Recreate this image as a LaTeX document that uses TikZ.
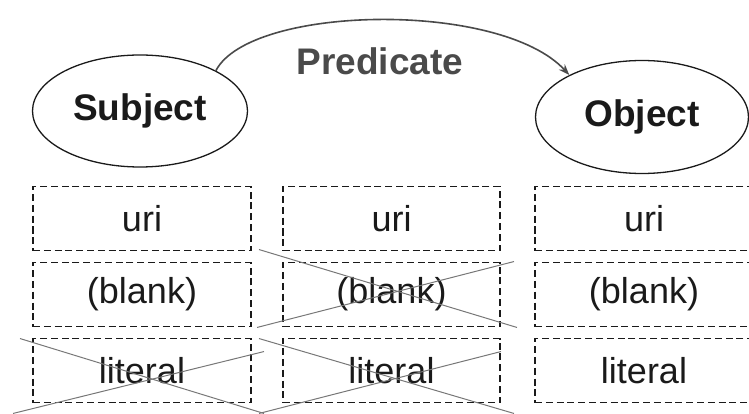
\documentclass[tikz,border=0pt]{standalone}
\usepackage{xcolor}
\usepackage{fontspec}
\setmainfont{Liberation Sans}
\usepackage{tikz}
\usetikzlibrary{shapes.geometric, arrows.meta, calc}

\definecolor{inkdark}{HTML}{1A1A1A}
\definecolor{inkgray}{HTML}{4A4A4A}
\definecolor{strikegray}{HTML}{777777}

\begin{document}
\begin{tikzpicture}[
    x=1pt, y=-1pt,
    every node/.style={align=center, font=\fontsize{36}{40}\selectfont, text=inkdark},
    term/.style={draw=inkdark, ellipse, line width=1.3pt, minimum width=215pt, minimum height=112pt, inner sep=0pt, font=\fontsize{37}{40}\selectfont\bfseries},
    pred/.style={font=\fontsize{37}{40}\selectfont\bfseries, text=inkgray},
    kind/.style={draw=inkdark, line width=1.9pt, dash pattern=on 7pt off 3.8pt, minimum width=218pt, minimum height=64pt, inner sep=0pt},
    link/.style={draw=inkgray, line width=1.6pt, -{Stealth[length=11pt, width=8pt]}},
    strike/.style={draw=strikegray, line width=1pt}
]
\useasboundingbox (0,0) rectangle (749,414);
\clip (0,0) rectangle (749,414);

\node[term] (subj) at (140,111) {Subject};
\node[term, minimum width=213pt, minimum height=113pt] (obj) at (642,117) {Object};
\node[pred] (pred) at (380,61) {Predicate};
\draw[link] (subj.28) .. controls (250,5) and (500,0) .. (obj.150);

\node[kind] (b11) at (142,218.5) {uri};
\node[kind] (b12) at (142,294.5) {(blank)};
\node[kind] (b13) at (142,370.5) {literal};
\node[kind, minimum width=217pt] (b21) at (391.5,218.5) {uri};
\node[kind, minimum width=217pt] (b22) at (391.5,294.5) {(blank)};
\node[kind, minimum width=217pt] (b23) at (391.5,370.5) {literal};
\node[kind] (b31) at (644,218.5) {uri};
\node[kind] (b32) at (644,294.5) {(blank)};
\node[kind] (b33) at (644,370.5) {literal};

\draw[strike] ($(b22.north west)+(-23,-12)$) -- ($(b22.south east)+(16,0)$);
\draw[strike] ($(b22.south west)+(-25,0)$) -- ($(b22.north east)+(13,0)$);
\draw[strike] ($(b13.north west)+(-12,1)$) -- ($(b13.south east)+(12,10)$);
\draw[strike] ($(b13.south west)+(-19,10)$) -- ($(b13.north east)+(12,14)$);
\draw[strike] ($(b23.north west)+(-23,1)$) -- ($(b23.south east)+(13,10)$);
\draw[strike] ($(b23.south west)+(-23,10)$) -- ($(b23.north east)+(0,14)$);
\end{tikzpicture}
\end{document}
